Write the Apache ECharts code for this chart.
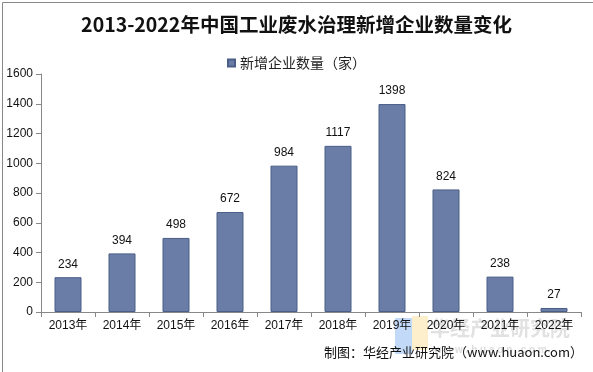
<!DOCTYPE html>
<html><head><meta charset="utf-8">
<script src="https://cdn.jsdelivr.net/npm/echarts@6/dist/echarts.min.js"></script>
<style>html,body{margin:0;padding:0;background:#fff}#c{width:593px;height:372px}</style>
</head><body><div id="c"></div>
<script>
var categories = ['2013年','2014年','2015年','2016年','2017年','2018年','2019年','2020年','2021年','2022年'];
var values = [234,394,498,672,984,1117,1398,824,238,27];
var seriesName = '新增企业数量（家）';
var titleText = '2013-2022年中国工业废水治理新增企业数量变化';
var sourceText = '制图：华经产业研究院（www.huaon.com）';

var chart = echarts.init(document.getElementById('c'));
chart.setOption({
  animation:false,
  title:{text:titleText,left:'center',top:10,textStyle:{fontFamily:'Noto Sans CJK SC',fontSize:19.5,fontWeight:'bold',color:'#111'}},
  legend:{data:[seriesName],top:51,left:'center',icon:'rect',itemWidth:7,itemHeight:7,itemGap:3,textStyle:{fontFamily:'Noto Sans CJK SC',fontSize:14,color:'#222'}},
  grid:{left:41,right:12,top:74,bottom:60},
  xAxis:{type:'category',data:categories,axisLine:{lineStyle:{color:'#888'}},axisTick:{show:true,length:5,lineStyle:{color:'#888'}},
    axisLabel:{fontFamily:'Liberation Sans, Noto Sans CJK SC',fontSize:12,color:'#111',margin:8}},
  yAxis:{type:'value',min:0,max:1600,interval:200,splitLine:{show:false},axisLine:{show:true,lineStyle:{color:'#888'}},
    axisTick:{show:true,length:5,lineStyle:{color:'#888'}},axisLabel:{fontFamily:'Liberation Sans',fontSize:12,color:'#111',margin:8,formatter:function(v){return String(v);}}},
  series:[{name:seriesName,type:'bar',data:values,barWidth:'50%',
    itemStyle:{color:'#6A7DA6',borderColor:'#4B5E88',borderWidth:1},
    label:{show:true,position:'top',distance:7,fontFamily:'Liberation Sans',fontSize:12,color:'#111'}}],
  graphic:[
    {type:'rect',left:0,top:0,shape:{x:0.5,y:0.5,width:592,height:371},style:{fill:'none',stroke:'#888',lineWidth:1}},
    {type:'rect',left:395,top:318,shape:{width:17,height:36},style:{fill:'rgba(120,170,240,0.45)'}},
    {type:'rect',left:412,top:316,shape:{width:16,height:34},style:{fill:'rgba(250,220,140,0.45)'}},
    {type:'text',left:430,top:318,style:{text:'华经产业研究院',fontFamily:'Noto Sans CJK SC',fontSize:20,fontWeight:'bold',fill:'rgba(170,170,170,0.35)'}},
    {type:'text',left:434,top:345,style:{text:'w w w . h u a o n . c o m',fontFamily:'Liberation Sans',fontSize:10,fontWeight:'bold',fill:'rgba(170,170,170,0.4)'}},
    {type:'text',right:10,top:346,style:{text:sourceText,fontFamily:'Noto Sans CJK SC',fontSize:13,fill:'#111'}}
  ]
});
</script></body></html>
